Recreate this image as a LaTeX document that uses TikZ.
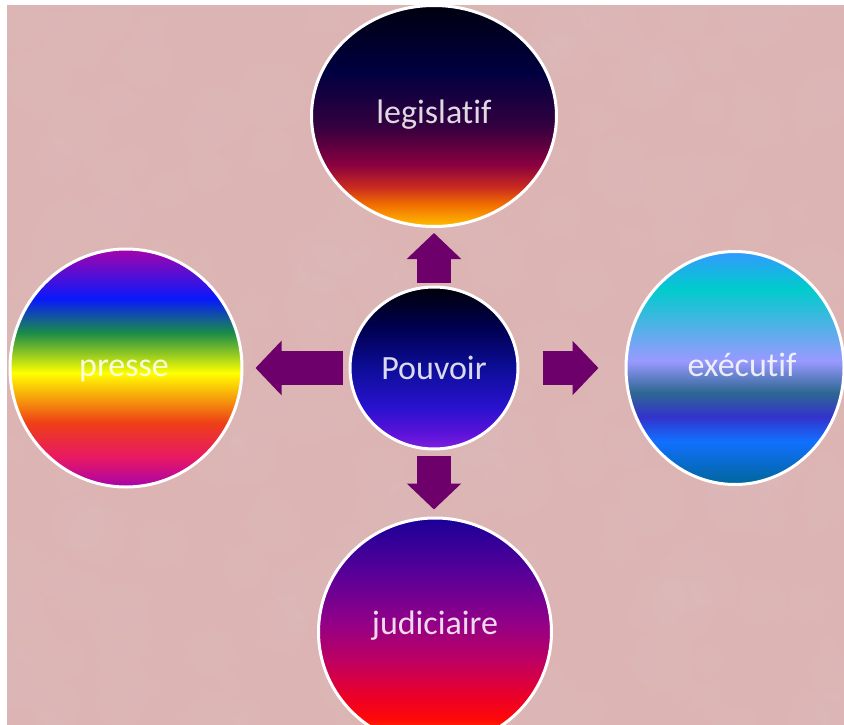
\documentclass[tikz,border=0pt]{standalone}
\usepackage{fontspec}
\setmainfont{Carlito}[Ligatures=NoCommon]
\usetikzlibrary{shapes.geometric,arrows.meta}

\definecolor{bgpink}{RGB}{220,180,180}
\definecolor{arrowpurple}{RGB}{110,0,108}

\definecolor{lgA}{HTML}{000010}
\definecolor{lgB}{HTML}{000040}
\definecolor{lgC}{HTML}{35003F}
\definecolor{lgD}{HTML}{8A0040}
\definecolor{lgE}{HTML}{C82A20}
\definecolor{lgF}{HTML}{F26E00}
\definecolor{lgG}{HTML}{FFBF00}
\pgfdeclareverticalshading{legisshade}{100bp}{color(0bp)=(lgG); color(25bp)=(lgG); color(30bp)=(lgF); color(34bp)=(lgE); color(39bp)=(lgD); color(47.5bp)=(lgC); color(60bp)=(lgB); color(75bp)=(lgA); color(100bp)=(lgA)}

\definecolor{prA}{HTML}{A603AB}
\definecolor{prB}{HTML}{0819FB}
\definecolor{prC}{HTML}{1A8D48}
\definecolor{prD}{HTML}{FFFF00}
\definecolor{prE}{HTML}{EE3F17}
\definecolor{prF}{HTML}{E81766}
\pgfdeclareverticalshading{presseshade}{100bp}{color(0bp)=(prA); color(25bp)=(prA); color(31bp)=(prF); color(38.5bp)=(prE); color(48.95bp)=(prD); color(57.4bp)=(prC); color(64.5bp)=(prB); color(75bp)=(prA); color(100bp)=(prA)}

\definecolor{exA}{HTML}{3399FF}
\definecolor{exB}{HTML}{00CCCC}
\definecolor{exC}{HTML}{9999FF}
\definecolor{exD}{HTML}{2E6792}
\definecolor{exE}{HTML}{3333CC}
\definecolor{exF}{HTML}{1170FF}
\definecolor{exG}{HTML}{006699}
\pgfdeclareverticalshading{execshade}{100bp}{color(0bp)=(exG); color(25bp)=(exG); color(34.25bp)=(exF); color(39.5bp)=(exE); color(44.75bp)=(exD); color(51.5bp)=(exC); color(67bp)=(exB); color(75bp)=(exA); color(100bp)=(exA)}

\definecolor{juA}{HTML}{1A0098}
\definecolor{juB}{HTML}{5A0098}
\definecolor{juC}{HTML}{900088}
\definecolor{juD}{HTML}{C00060}
\definecolor{juE}{HTML}{E8002C}
\definecolor{juF}{HTML}{FF0808}
\definecolor{juG}{HTML}{FF6000}
\pgfdeclareverticalshading{judishade}{100bp}{color(0bp)=(juG); color(25bp)=(juG); color(31bp)=(juF); color(36.5bp)=(juE); color(43.5bp)=(juD); color(52.5bp)=(juC); color(62.5bp)=(juB); color(75bp)=(juA); color(100bp)=(juA)}

\definecolor{poA}{HTML}{000008}
\definecolor{poB}{HTML}{000050}
\definecolor{poC}{HTML}{0D0D98}
\definecolor{poD}{HTML}{2A12D0}
\definecolor{poE}{HTML}{5A12D8}
\definecolor{poF}{HTML}{8020E0}
\pgfdeclareverticalshading{pouvshade}{100bp}{color(0bp)=(poF); color(25bp)=(poF); color(30bp)=(poE); color(37.5bp)=(poD); color(50bp)=(poC); color(62.5bp)=(poB); color(75bp)=(poA); color(100bp)=(poA)}

\tikzset{
  bubble/.style={ellipse, draw=white, line width=3pt, inner sep=0pt},
  lbl/.style={font=\fontsize{34}{40}\selectfont, text=white, text opacity=0.85, inner sep=0pt},
  blockarrow/.style={draw=arrowpurple, line width=34pt, line cap=butt, -{Triangle[width=53pt,length=26pt]}},
}

\begin{document}
\begin{tikzpicture}[x=1pt,y=-1pt]
\useasboundingbox (0,0) rectangle (844,725);
\clip (0,0) rectangle (844,725);
% background
\fill[white] (0,0) rectangle (844,725);
\fill[bgpink] (7,5) rectangle (844,725);
\begin{scope}
  \clip (7,5) rectangle (844,725);
  \pgfmathsetseed{42}
  \foreach \i in {1,...,260}{
    \fill[white, opacity=0.025] (rnd*850, rnd*730) circle ({8+rnd*26});
  }
\end{scope}

% circles
\node[bubble, shading=legisshade, minimum width=245pt, minimum height=221pt] (legis) at (434,116) {};
\node[bubble, shading=presseshade, minimum width=232pt, minimum height=238pt] (presse) at (126,368) {};
\node[bubble, shading=execshade, minimum width=218pt, minimum height=233pt] (exec) at (735,368) {};
\node[bubble, shading=judishade, minimum width=233pt, minimum height=228pt] (judi) at (435,632) {};
\node[bubble, shading=pouvshade, minimum width=168pt, minimum height=162pt] (pouv) at (434,368) {};

% arrows
\draw[blockarrow, shorten <=3pt, shorten >=5pt] (pouv) -- (legis);
\draw[blockarrow, shorten <=6pt, shorten >=12pt] (pouv) -- (presse);
\draw[blockarrow, shorten <=23pt, shorten >=26pt] (pouv) -- (exec);
\draw[blockarrow, shorten <=5pt, shorten >=7pt] (pouv.south) -- (pouv.south |- judi.north);

% labels
\node[lbl] (legisT) at (434,115) {legislatif};
\node[lbl] (presseT) at (124,371) {presse};
\node[lbl] (execT) at (742,365) {exécutif};
\node[lbl] (judiT) at (435,626) {judiciaire};
\node[lbl] (pouvT) at (434,368) {Pouvoir};
\end{tikzpicture}
\end{document}
